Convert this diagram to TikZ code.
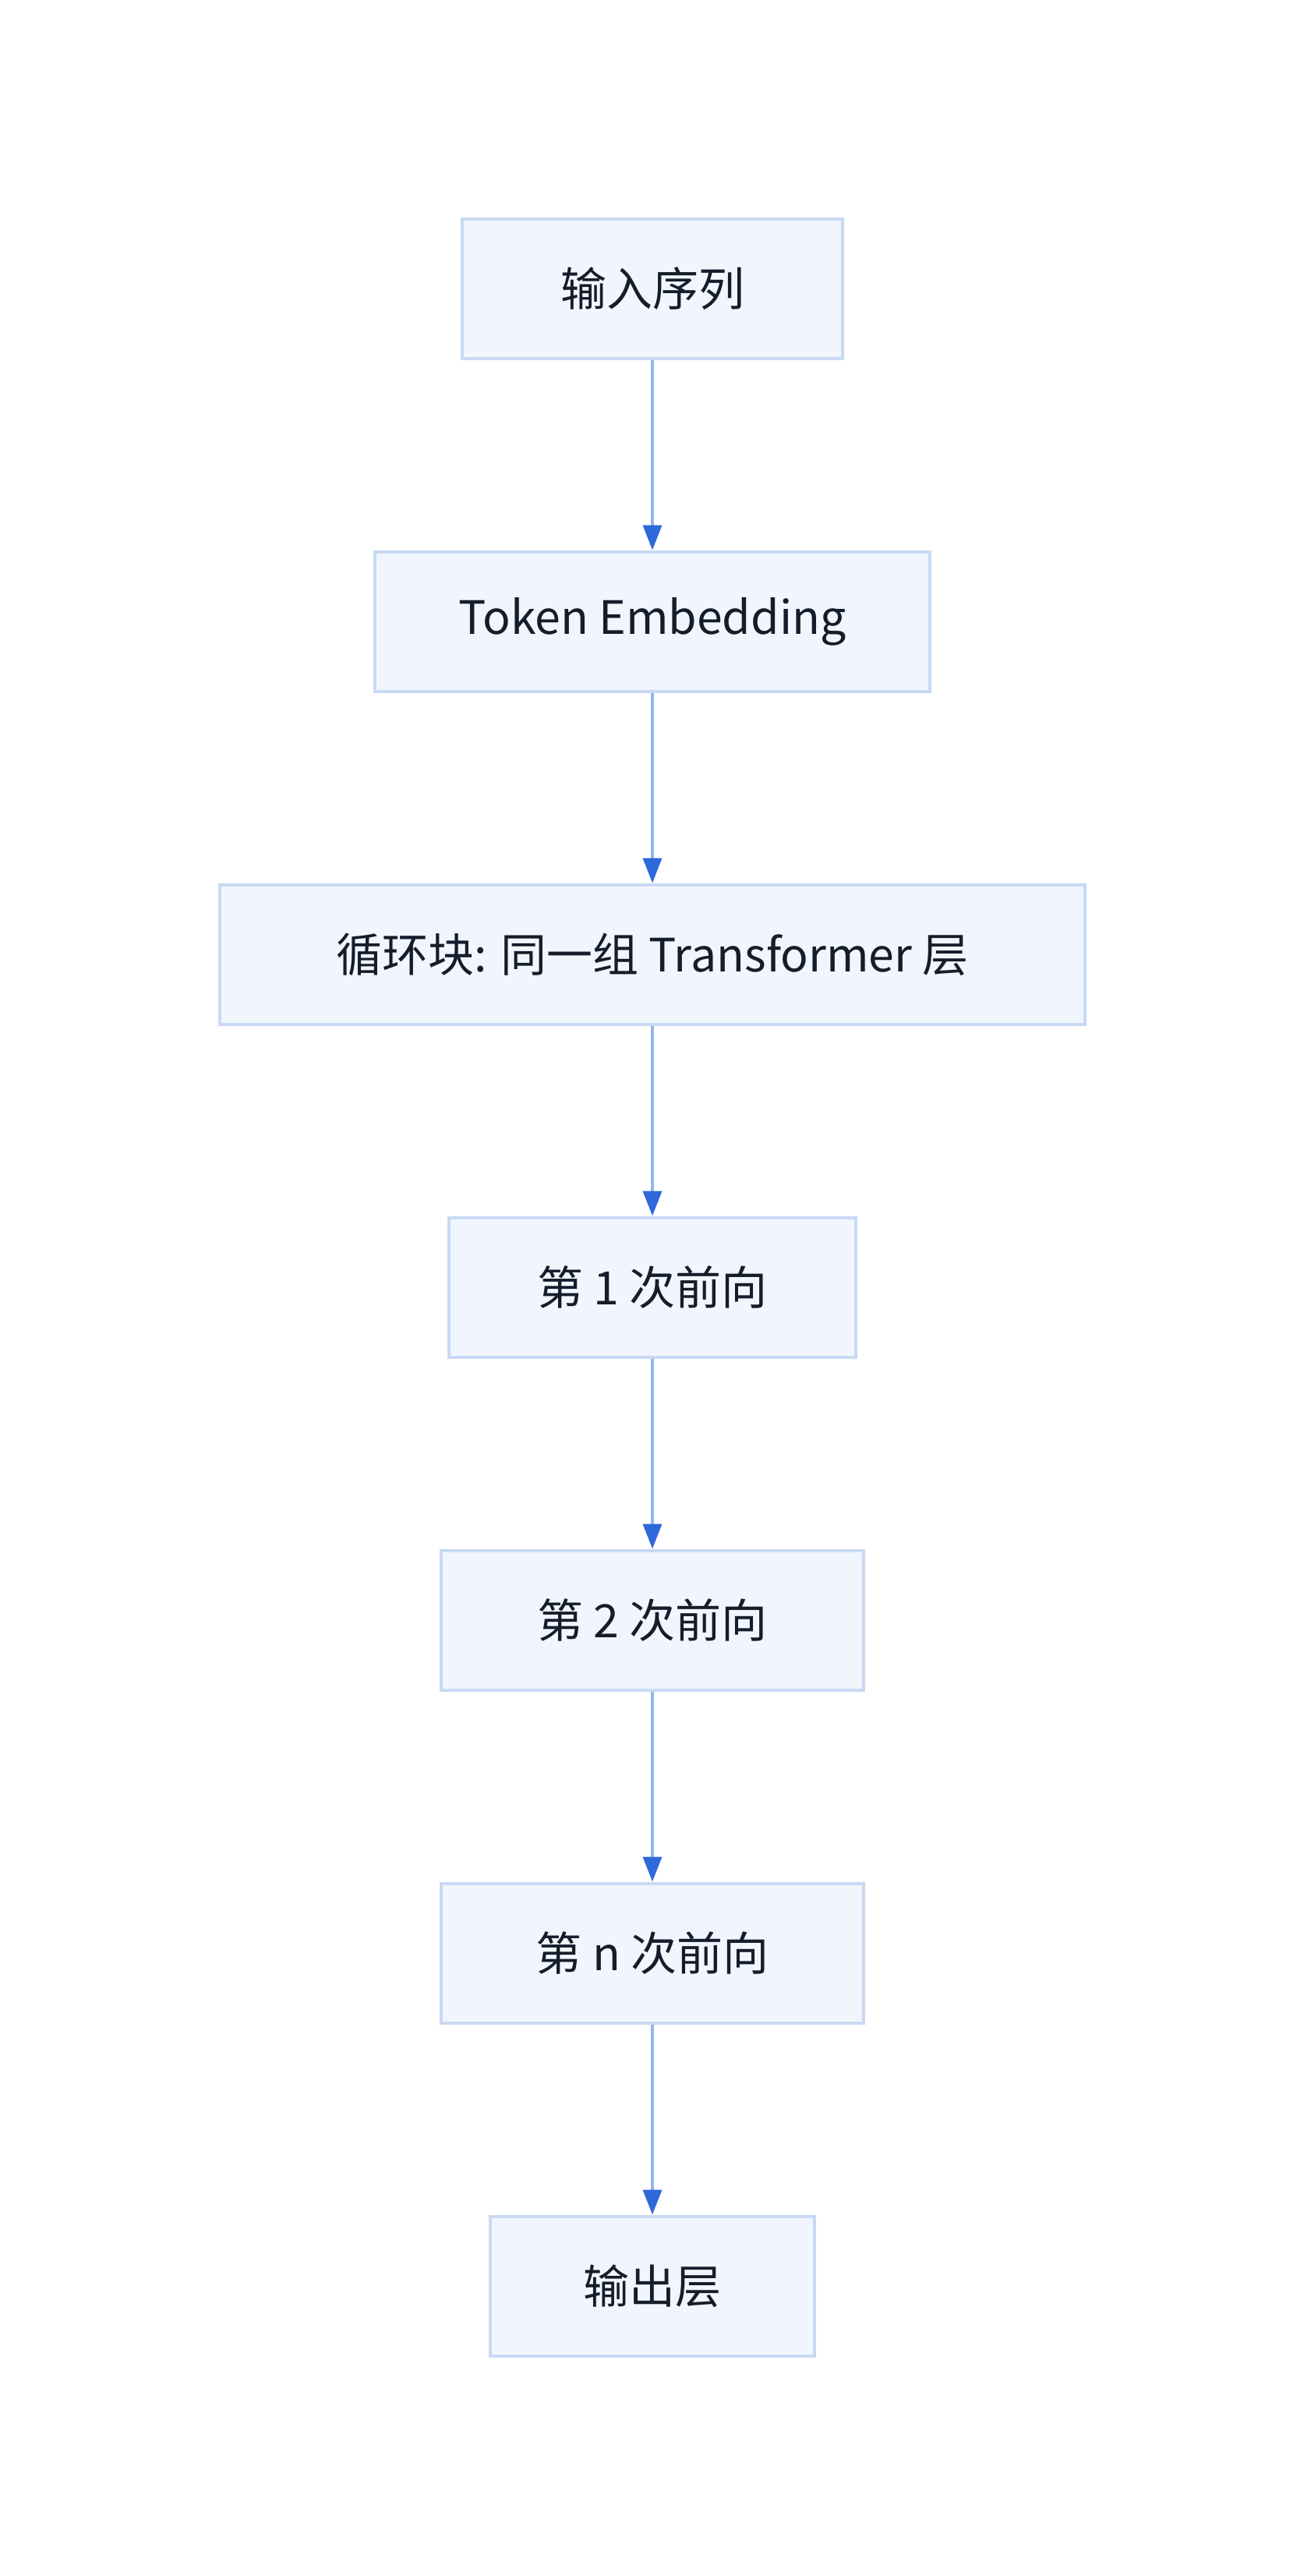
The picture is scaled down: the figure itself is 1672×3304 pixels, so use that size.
\documentclass[tikz,border=0pt]{standalone}
\usepackage{fontspec}
\setmainfont{Noto Sans CJK SC}
\usetikzlibrary{arrows.meta}
\definecolor{boxfill}{HTML}{F1F6FE}
\definecolor{boxline}{HTML}{C8D9F3}
\definecolor{flowline}{HTML}{93B4EE}
\definecolor{flowtip}{HTML}{2F68DA}
\definecolor{labeltext}{HTML}{151C2B}
\tikzset{
  stage/.style={draw=boxline,fill=boxfill,line width=2pt,minimum height=89.5pt,
    inner sep=0pt,text=labeltext,font=\fontsize{29.5}{36}\selectfont},
  flow/.style={draw=flowline,line width=1.8pt,
    -{Triangle[width=12pt,length=16pt,color=flowtip]}}
}
\begin{document}
\begin{tikzpicture}[x=0.5pt,y=-0.5pt]
  \useasboundingbox (0,0) rectangle (1672,3304);

  \node [stage,minimum width=244pt] (inp) at (837,370) {输入序列};
  \node [stage,minimum width=356pt] (emb) at (837,797) {Token Embedding};
  \node [stage,minimum width=555pt] (loopblk) at (837,1224) {循环块: 同一组 Transformer 层};
  \node [stage,minimum width=261pt] (pass1) at (837,1651) {第 1 次前向};
  \node [stage,minimum width=271pt] (pass2) at (837,2078) {第 2 次前向};
  \node [stage,minimum width=271pt] (passn) at (837,2505) {第 n 次前向};
  \node [stage,minimum width=208pt] (outl) at (837,2932) {输出层};

  \foreach \a/\b in {inp/emb,emb/loopblk,loopblk/pass1,pass1/pass2,pass2/passn,passn/outl}
    \draw [flow] (\a) -- (\b);
\end{tikzpicture}
\end{document}
